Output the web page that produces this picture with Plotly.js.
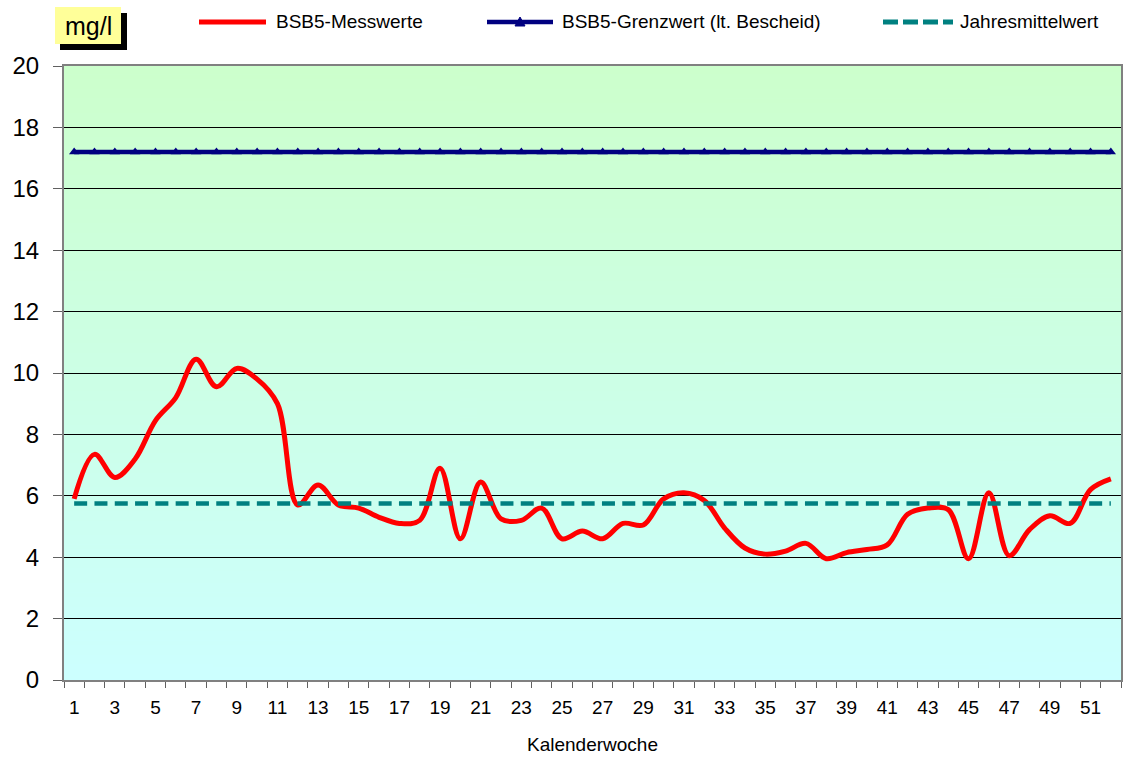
<!DOCTYPE html>
<html>
<head>
<meta charset="utf-8">
<script src="https://cdn.plot.ly/plotly-3.0.1.min.js"></script>
<style>html,body{margin:0;padding:0;background:#fff;}#chart{width:1125px;height:758px;}</style>
</head>
<body>
<div id="chart"></div>
<script>
// Data
const weeks = Array.from({length: 52}, (_, i) => i + 1);
const bsb5Messwerte = [5.9, 7.35, 6.6, 7.2, 8.45, 9.2, 10.45, 9.55, 10.15, 9.8,
  9.0, 5.7, 6.35, 5.7, 5.6, 5.3, 5.1, 5.2, 6.9, 4.6,
  6.45, 5.25, 5.2, 5.6, 4.6, 4.85, 4.6, 5.1, 5.05, 5.9,
  6.1, 5.85, 4.95, 4.3, 4.1, 4.2, 4.45, 3.95, 4.15, 4.25,
  4.4, 5.4, 5.6, 5.55, 3.95, 6.1, 4.05, 4.9, 5.35, 5.1,
  6.2, 6.55];
const grenzwertValue = 17.2;
const jahresmittelValue = 5.75;
const grenzwert = weeks.map(() => grenzwertValue);
const jahresmittel = weeks.map(() => jahresmittelValue);
const xTickVals = weeks.filter(w => w % 2 === 1);
const yTickVals = [0, 2, 4, 6, 8, 10, 12, 14, 16, 18, 20];
const seriesNames = ['BSB5-Messwerte', 'BSB5-Grenzwert (lt. Bescheid)', 'Jahresmittelwert'];
const unitLabel = 'mg/l';
const xTitle = 'Kalenderwoche';

const RED = '#FF0000', NAVY = '#000080', TEAL = '#008080';

// background gradient
const cv = document.createElement('canvas');
cv.width = 4; cv.height = 256;
const ctx = cv.getContext('2d');
const g = ctx.createLinearGradient(0, 0, 0, 256);
g.addColorStop(0, '#CCFFCC');
g.addColorStop(1, '#CCFFFF');
ctx.fillStyle = g;
ctx.fillRect(0, 0, 4, 256);
const bg = cv.toDataURL('image/png');

const font = 'Arial, "Liberation Sans", sans-serif';

// plot-area pixel geometry helpers (for the legend/label decorations only)
const W = 1125, H = 758, L = 64, R = 4, T = 66, B = 78;
const pw = W - L - R, ph = H - T - B;
const px = v => (v - L) / pw;
const py = v => (H - B - v) / ph;

const traces = [
  {
    x: weeks, y: bsb5Messwerte, name: seriesNames[0], type: 'scatter', mode: 'lines',
    line: {color: RED, width: 5, shape: 'spline', smoothing: 1}
  },
  {
    x: weeks, y: grenzwert, name: seriesNames[1], type: 'scatter', mode: 'lines+markers',
    line: {color: NAVY, width: 4.5},
    marker: {symbol: 'triangle-up', size: 9, color: NAVY}
  },
  {
    x: weeks, y: jahresmittel, name: seriesNames[2], type: 'scatter', mode: 'lines',
    line: {color: TEAL, width: 4.5, dash: '13px,7.3px'}
  }
];

const legY = 22;
const shapes = [
  // mg/l box shadow and box
  {type: 'rect', xref: 'paper', yref: 'paper', x0: px(60), x1: px(127), y0: py(50), y1: py(13),
   fillcolor: '#000000', line: {width: 0}, layer: 'above'},
  {type: 'rect', xref: 'paper', yref: 'paper', x0: px(55), x1: px(121), y0: py(44), y1: py(7),
   fillcolor: '#FFFF99', line: {width: 0}, layer: 'above'},
  // legend symbols
  {type: 'line', xref: 'paper', yref: 'paper', x0: px(199), x1: px(266), y0: py(legY), y1: py(legY),
   line: {color: RED, width: 5}},
  {type: 'line', xref: 'paper', yref: 'paper', x0: px(487), x1: px(553), y0: py(legY), y1: py(legY),
   line: {color: NAVY, width: 4.5}},
  {type: 'path', xref: 'paper', yref: 'paper',
   path: `M ${px(515)} ${py(legY + 4)} L ${px(525)} ${py(legY + 4)} L ${px(520)} ${py(legY - 5)} Z`,
   fillcolor: NAVY, line: {color: NAVY, width: 1}},
  {type: 'line', xref: 'paper', yref: 'paper', x0: px(883), x1: px(953), y0: py(legY), y1: py(legY),
   line: {color: TEAL, width: 5, dash: '15px,5px'}}
];

const layout = {
  width: W, height: H,
  margin: {l: L, r: R, t: T, b: B},
  paper_bgcolor: '#FFFFFF',
  plot_bgcolor: '#CCFFEE',
  showlegend: false,
  images: [{
    source: bg, xref: 'paper', yref: 'paper', x: 0, y: 1, sizex: 1, sizey: 1,
    sizing: 'stretch', layer: 'below', xanchor: 'left', yanchor: 'top'
  }],
  xaxis: {
    type: 'linear', range: [0.5, 52.5],
    tickmode: 'array', tickvals: xTickVals, ticktext: xTickVals.map(String),
    ticks: 'outside', ticklen: 9, tickcolor: 'rgba(0,0,0,0)',
    showgrid: false, zeroline: false,
    showline: true, linecolor: '#808080', linewidth: 2, mirror: true,
    tickfont: {family: font, size: 19, color: '#000'},
    minor: {tickmode: 'array', tickvals: weeks.map(w => w - 0.5).concat([52.5]), ticks: 'outside', ticklen: 6, tickcolor: '#606060', tickwidth: 1, showgrid: false},
    title: {text: xTitle, font: {family: font, size: 19, color: '#000'}, standoff: 21},
    fixedrange: true
  },
  yaxis: {
    range: [0, 20], tickmode: 'array', tickvals: yTickVals,
    ticks: 'outside', ticklen: 9, tickcolor: '#606060', ticklabelstandoff: 9,
    showgrid: true, gridcolor: '#000000', gridwidth: 1, zeroline: false,
    showline: true, linecolor: '#808080', linewidth: 2, mirror: true,
    tickfont: {family: font, size: 24, color: '#000'},
    fixedrange: true
  },
  shapes: shapes,
  annotations: [
    {xref: 'paper', yref: 'paper', x: px(88), y: py(26), xanchor: 'center', yanchor: 'middle',
     text: unitLabel, showarrow: false, font: {family: font, size: 25, color: '#000'}},
    {xref: 'paper', yref: 'paper', x: px(274), y: py(legY), xanchor: 'left', yanchor: 'middle',
     text: seriesNames[0], showarrow: false, font: {family: font, size: 19, color: '#000'}},
    {xref: 'paper', yref: 'paper', x: px(560), y: py(legY), xanchor: 'left', yanchor: 'middle',
     text: seriesNames[1], showarrow: false, font: {family: font, size: 19, color: '#000'}},
    {xref: 'paper', yref: 'paper', x: px(958), y: py(legY), xanchor: 'left', yanchor: 'middle',
     text: seriesNames[2], showarrow: false, font: {family: font, size: 19, color: '#000'}}
  ]
};

Plotly.newPlot('chart', traces, layout, {displayModeBar: false, staticPlot: true});
</script>
</body>
</html>
